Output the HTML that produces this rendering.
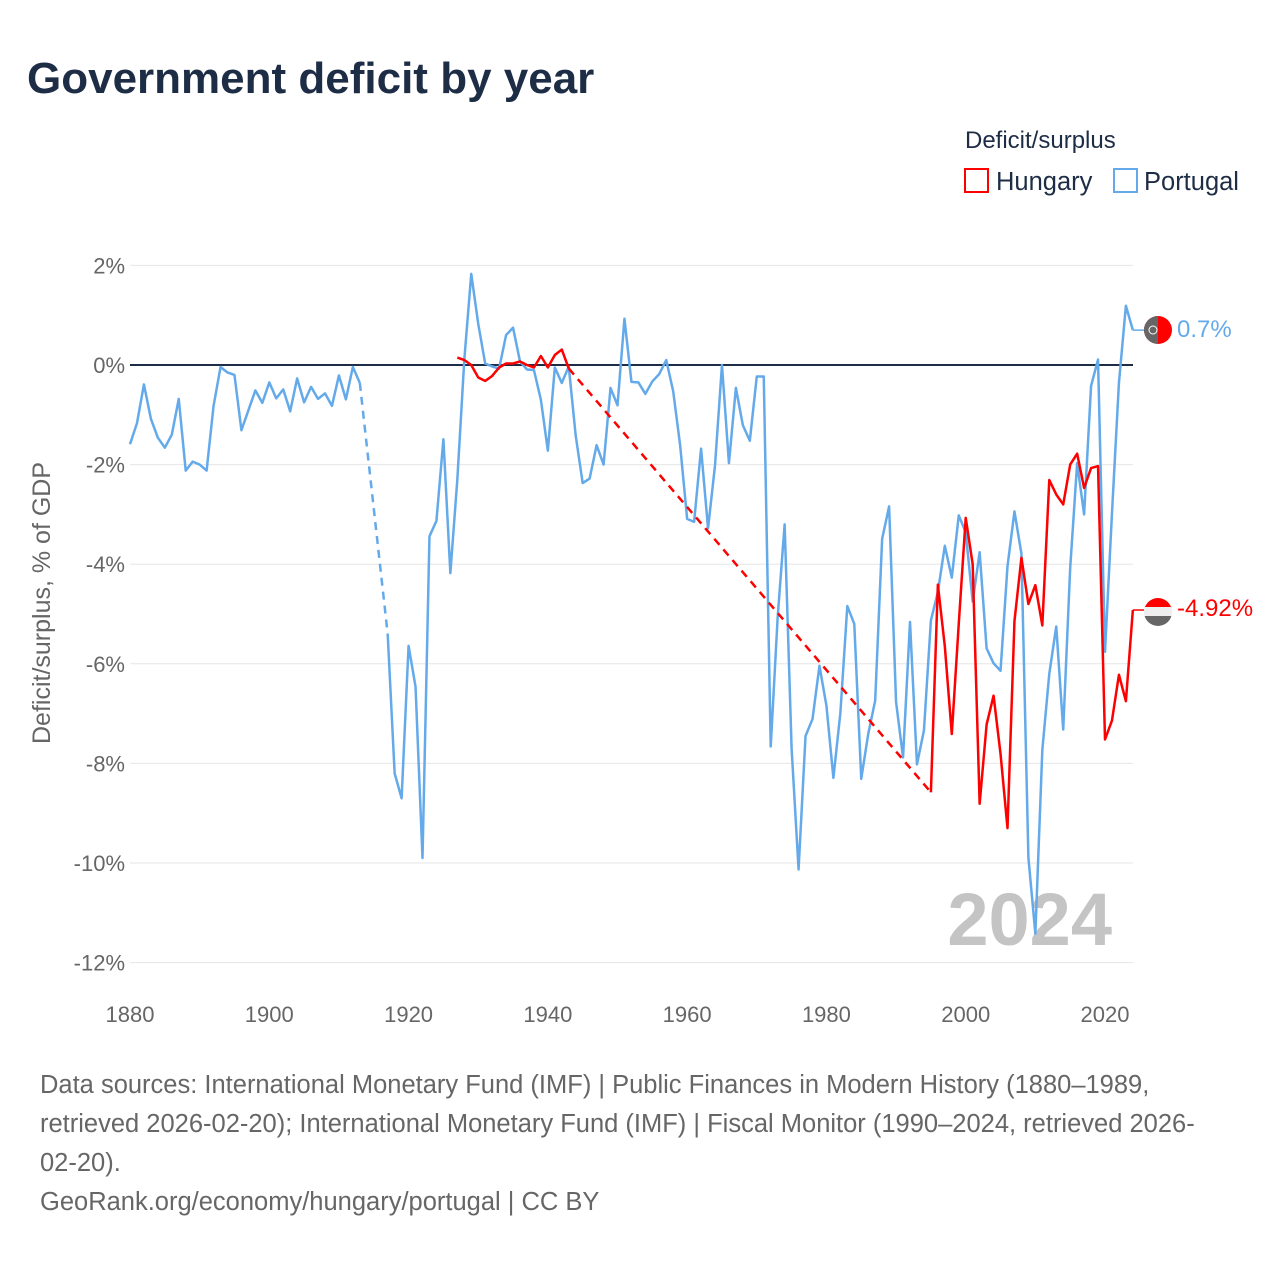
<!DOCTYPE html>
<html><head><meta charset="utf-8"><style>
body{margin:0;background:#fff;font-family:"Liberation Sans",sans-serif}
svg text{font-family:"Liberation Sans",sans-serif}
</style></head><body>
<svg id="chart" width="1280" height="1280" viewBox="0 0 1280 1280">
<text x="27" y="93" font-size="44" font-weight="bold" fill="#1e2d46">Government deficit by year</text>
<text x="965" y="148" font-size="24" fill="#1e2d46">Deficit/surplus</text>
<g><rect x="965" y="169" width="23" height="23" fill="none" stroke="#ff0000" stroke-width="2"/><text x="996" y="190" font-size="25.5" fill="#1e2d46">Hungary</text></g>
<g><rect x="1114" y="169" width="23" height="23" fill="none" stroke="#64aaea" stroke-width="2"/><text x="1144" y="190" font-size="25.5" fill="#1e2d46">Portugal</text></g>
<g id="grid"></g><g id="yticks"></g><g id="xticks"></g>
<text x="0" y="0" font-size="25" fill="#666" text-anchor="middle" transform="translate(50,603) rotate(-90)">Deficit/surplus, % of GDP</text>
<text x="1112" y="945" font-size="74" font-weight="bold" fill="#c4c4c4" text-anchor="end">2024</text>
<g id="series"></g>
<g><circle cx="1158" cy="330" r="14" fill="#ff0000"/><path d="M1158 316 A14 14 0 0 0 1158 344 Z" fill="#666"/><circle cx="1153" cy="330" r="4" fill="none" stroke="#fff" stroke-width="1"/></g>
<g><clipPath id="hc"><circle cx="1158" cy="612" r="14"/></clipPath><g clip-path="url(#hc)"><rect x="1144" y="598" width="28" height="10" fill="#ff0000"/><rect x="1144" y="607" width="28" height="10" fill="#eee"/><rect x="1144" y="616" width="28" height="12" fill="#666"/></g></g>
<text x="1177" y="337" font-size="24" fill="#64aaea">0.7%</text>
<text x="1177" y="616" font-size="24" fill="#ff0000">-4.92%</text>
<g font-size="25.5" fill="#666">
<text x="40" y="1093">Data sources: International Monetary Fund (IMF) | Public Finances in Modern History (1880–1989,</text>
<text x="40" y="1132">retrieved 2026-02-20); International Monetary Fund (IMF) | Fiscal Monitor (1990–2024, retrieved 2026-</text>
<text x="40" y="1171">02-20).</text>
<text x="40" y="1210">GeoRank.org/economy/hungary/portugal | CC BY</text>
</g>
</svg>
<script>
const startYear = 1880;
const portugal = [-1.59,-1.17,-0.39,-1.08,-1.46,-1.66,-1.4,-0.68,-2.12,-1.94,-2.0,-2.12,-0.82,-0.04,-0.15,-0.2,-1.31,-0.91,-0.51,-0.76,-0.35,-0.67,-0.49,-0.93,-0.27,-0.75,-0.44,-0.68,-0.57,-0.82,-0.21,-0.69,-0.04,-0.36,null,null,null,-5.4,-8.2,-8.7,-5.64,-6.46,-9.9,-3.44,-3.13,-1.49,-4.18,-2.3,0.1,1.83,0.83,0.03,-0.03,-0.07,0.6,0.75,0.07,-0.09,-0.1,-0.7,-1.72,-0.05,-0.36,-0.03,-1.42,-2.37,-2.28,-1.61,-2.0,-0.46,-0.81,0.93,-0.34,-0.35,-0.58,-0.33,-0.18,0.1,-0.53,-1.62,-3.09,-3.15,-1.68,-3.28,-2.02,0,-1.97,-0.46,-1.21,-1.52,-0.23,-0.23,-7.66,-5.06,-3.2,-7.7,-10.13,-7.45,-7.11,-6.04,-6.84,-8.29,-6.99,-4.84,-5.2,-8.31,-7.41,-6.74,-3.49,-2.84,-6.77,-7.88,-5.16,-8.02,-7.34,-5.13,-4.56,-3.63,-4.27,-3.02,-3.36,-4.75,-3.76,-5.69,-5.99,-6.14,-4.04,-2.94,-3.79,-9.89,-11.42,-7.73,-6.2,-5.25,-7.32,-4.08,-1.97,-3.0,-0.42,0.11,-5.76,-2.98,-0.36,1.19,0.7];
const hungaryYears = [1927,1928,1929,1930,1931,1932,1933,1934,1935,1936,1937,1938,1939,1940,1941,1942,1943,1995,1996,1997,1998,1999,2000,2001,2002,2003,2004,2005,2006,2007,2008,2009,2010,2011,2012,2013,2014,2015,2016,2017,2018,2019,2020,2021,2022,2023,2024];
const hungaryValues = [0.15,0.1,0,-0.25,-0.32,-0.22,-0.05,0.03,0.03,0.07,0,-0.05,0.18,-0.05,0.2,0.31,-0.07,-8.58,-4.41,-5.65,-7.41,-5.2,-3.07,-4.0,-8.81,-7.22,-6.64,-7.81,-9.3,-5.14,-3.87,-4.8,-4.42,-5.23,-2.31,-2.6,-2.8,-2.0,-1.78,-2.47,-2.07,-2.03,-7.52,-7.14,-6.22,-6.75,-4.92];
const yTicks = [2,0,-2,-4,-6,-8,-10,-12];
const xTicks = [1880,1900,1920,1940,1960,1980,2000,2020];

const NS="http://www.w3.org/2000/svg";
const X = y => 130 + (y-1880)*975/140;
const Y = v => 365 - v*49.8;
function mk(tag, attrs, parent){const e=document.createElementNS(NS,tag);for(const k in attrs)e.setAttribute(k,attrs[k]);parent.appendChild(e);return e;}
const grid=document.getElementById('grid'), yt=document.getElementById('yticks'), xt=document.getElementById('xticks'), ser=document.getElementById('series');
yTicks.forEach(t=>{
  const l=mk('line',{x1:130,x2:1133,y1:Y(t),y2:Y(t),stroke:t===0?'#1e2d46':'#e6e6e6','stroke-width':t===0?2:1},grid);
  
  
  const tx=mk('text',{x:125,y:Y(t)+8,'font-size':22,fill:'#666','text-anchor':'end'},yt);
  tx.textContent=t+'%';
  
  
});
xTicks.forEach(t=>{
  const tx=mk('text',{x:X(t),y:1022,'font-size':22,fill:'#666','text-anchor':'middle'},xt);
  tx.textContent=t;
  
  
});
function draw(years, vals, color, name){
  let segs=[], cur=[];
  const pts=[];
  years.forEach((yr,i)=>{ if(vals[i]!==null) pts.push([yr,vals[i]]); });
  for(let i=0;i<pts.length;i++){
    if(i>0 && pts[i][0]-pts[i-1][0]>1){
      segs.push(cur); cur=[];
      const d=mk('line',{x1:X(pts[i-1][0]),y1:Y(pts[i-1][1]),x2:X(pts[i][0]),y2:Y(pts[i][1]),stroke:color,'stroke-width':2.5,'stroke-dasharray':'8 6'},ser);
      
      
    }
    cur.push(pts[i]);
  }
  segs.push(cur);
  segs.forEach(s=>{
    const p=mk('polyline',{points:s.map(q=>X(q[0])+','+Y(q[1])).join(' '),fill:'none',stroke:color,'stroke-width':2.5,'stroke-linejoin':'round'},ser);
    
    
  });
}
draw(portugal.map((v,i)=>startYear+i), portugal, '#64aaea', 'portugal');
draw(hungaryYears, hungaryValues, '#ff0000', 'hungary');
const c1=mk('line',{x1:X(2024),y1:Y(portugal[portugal.length-1]),x2:1144,y2:Y(portugal[portugal.length-1]),stroke:'#64aaea','stroke-width':1.5},ser);


const c2=mk('line',{x1:X(2024),y1:Y(hungaryValues[hungaryValues.length-1]),x2:1144,y2:Y(hungaryValues[hungaryValues.length-1]),stroke:'#ff0000','stroke-width':1.5},ser);


</script>
</body></html>
